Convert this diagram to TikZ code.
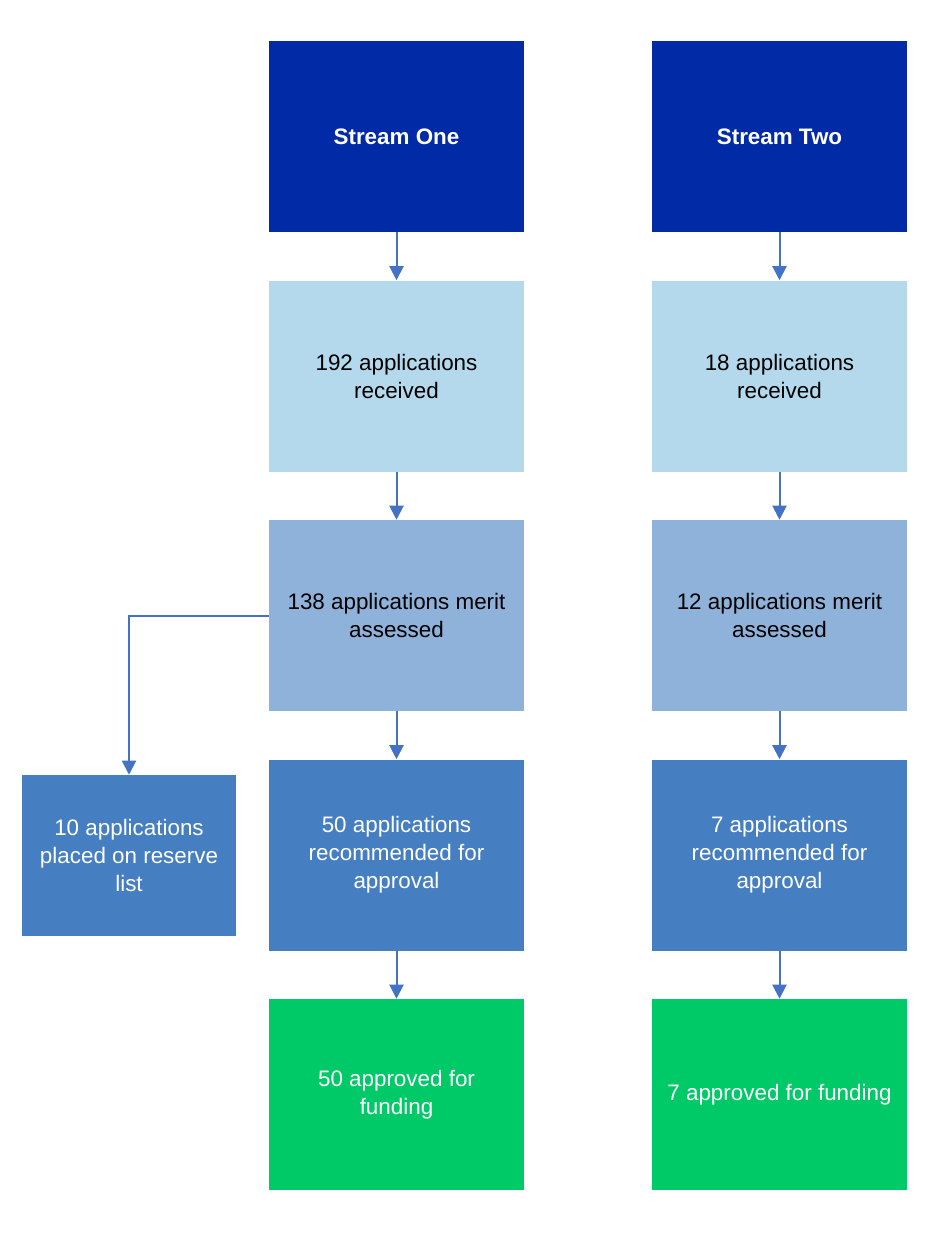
\documentclass[tikz,border=0pt]{standalone}
\usepackage{fontspec}
\setmainfont{Liberation Sans}
\usetikzlibrary{arrows.meta}
\definecolor{cdark}{HTML}{002AA6}
\definecolor{clight}{HTML}{B4D9EC}
\definecolor{cmid}{HTML}{8FB2DA}
\definecolor{cblue}{HTML}{457FC2}
\definecolor{cgreen}{HTML}{00C967}
\definecolor{carrow}{HTML}{4472C4}
\begin{document}
\begin{tikzpicture}[x=0.75pt,y=-0.75pt,
  box/.style={rectangle,minimum width=191.25pt,minimum height=143.25pt,inner sep=0pt,align=center,font=\fontsize{16.8}{21}\selectfont},
  darkbox/.style={box,fill=cdark,text=white,font=\fontsize{16.8}{21}\selectfont\bfseries},
  lightbox/.style={box,fill=clight,text=black},
  midbox/.style={box,fill=cmid,text=black},
  bluebox/.style={box,fill=cblue,text=white},
  greenbox/.style={box,fill=cgreen,text=white},
  conn/.style={draw=carrow,line width=1.5pt,-{Triangle[width=10.5pt,length=10.5pt]}}]
\useasboundingbox (0,0) rectangle (930,1233);
\node[darkbox] (s1) at (396.5,136.5) {Stream One};
\node[lightbox] (r1) at (396.5,376) {192 applications\\received};
\node[midbox] (m1) at (396.5,615.5) {138 applications merit\\assessed};
\node[bluebox] (a1) at (396.5,855) {50 applications\\recommended for\\approval};
\node[greenbox] (f1) at (396.5,1094.5) {50 approved for\\funding};
\node[darkbox] (s2) at (779.5,136.5) {Stream Two};
\node[lightbox] (r2) at (779.5,376) {18 applications\\received};
\node[midbox] (m2) at (779.5,615.5) {12 applications merit\\assessed};
\node[bluebox] (a2) at (779.5,855) {7 applications\\recommended for\\approval};
\node[greenbox] (f2) at (779.5,1094.5) {7 approved for funding};
\node[bluebox,minimum width=160.5pt,minimum height=120.75pt] (res) at (129,855.5) {10 applications\\placed on reserve\\list};
\draw[conn] (s1) -- (r1);
\draw[conn] (r1) -- (m1);
\draw[conn] (m1) -- (a1);
\draw[conn] (a1) -- (f1);
\draw[conn] (s2) -- (r2);
\draw[conn] (r2) -- (m2);
\draw[conn] (m2) -- (a2);
\draw[conn] (a2) -- (f2);
\draw[conn] (m1.west) -| (res.north);
\end{tikzpicture}
\end{document}
